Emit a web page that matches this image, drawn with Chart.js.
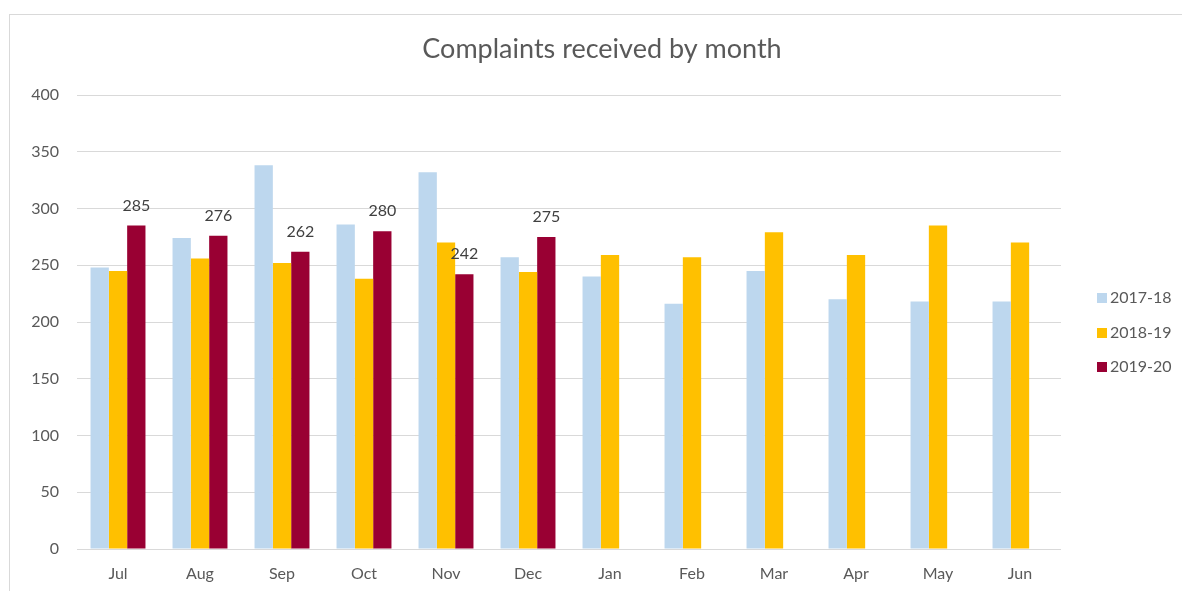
<!DOCTYPE html>
<html>
<head>
<meta charset="utf-8">
<script src="https://cdn.jsdelivr.net/npm/chart.js@4/dist/chart.umd.min.js"></script>
<style>
  html, body { margin: 0; padding: 0; background: #fff; }
  #wrap { position: relative; width: 1182px; height: 591px; }
</style>
</head>
<body>
<div id="wrap"><canvas id="c" width="1182" height="591"></canvas></div>
<script>
const months = ["Jul","Aug","Sep","Oct","Nov","Dec","Jan","Feb","Mar","Apr","May","Jun"];
const series1718 = [248, 274, 338, 286, 332, 257, 240, 216, 245, 220, 218, 218];
const series1819 = [245, 256, 252, 238, 270, 244, 259, 257, 279, 259, 285, 270];
const series1920 = [285, 276, 262, 280, 242, 275, null, null, null, null, null, null];
const seriesNames = ["2017-18", "2018-19", "2019-20"];
const seriesColors = ["#BDD7EE", "#FFC000", "#990033"];
const yTicks = [0, 50, 100, 150, 200, 250, 300, 350, 400];
const chartTitle = "Complaints received by month";

const FONT = "Lato, 'Open Sans', sans-serif";
const TXT = "#595959";

// outer frame + title + legend drawn as canvas text
const decor = {
  id: 'decor',
  beforeDraw(chart) {
    const ctx = chart.ctx;
    ctx.save();
    ctx.strokeStyle = '#d9d9d9';
    ctx.lineWidth = 1;
    ctx.strokeRect(9.5, 14.5, 1400, 800);
    ctx.restore();
  },
  afterDraw(chart) {
    const ctx = chart.ctx;
    ctx.save();
    // title
    ctx.font = "27px " + FONT;
    ctx.fillStyle = TXT;
    ctx.textAlign = "center";
    ctx.textBaseline = "alphabetic";
    ctx.fillText(chartTitle, 602, 58);
    // legend
    ctx.font = "16px " + FONT;
    ctx.textAlign = "left";
    ctx.textBaseline = "middle";
    const rowsY = [298, 333, 367];
    chart.data.datasets.forEach((ds, i) => {
      ctx.fillStyle = ds.backgroundColor;
      ctx.fillRect(1097, rowsY[i] - 5, 10, 10);
      ctx.fillStyle = TXT;
      ctx.fillText(ds.label, 1110, rowsY[i]);
    });
    ctx.restore();
  }
};

const dataLabels = {
  id: 'dataLabels',
  afterDatasetsDraw(chart) {
    const ctx = chart.ctx;
    const idx = 2;
    const meta = chart.getDatasetMeta(idx);
    const ds = chart.data.datasets[idx];
    ctx.save();
    ctx.font = "16px " + FONT;
    ctx.fillStyle = "#404040";
    ctx.textAlign = "center";
    ctx.textBaseline = "middle";
    meta.data.forEach((bar, i) => {
      const v = ds.data[i];
      if (v === null || v === undefined) return;
      ctx.fillText(String(v), bar.x, bar.y - 20);
    });
    ctx.restore();
  }
};

new Chart(document.getElementById('c'), {
  type: 'bar',
  data: {
    labels: months,
    datasets: [
      { label: seriesNames[0], data: series1718, backgroundColor: seriesColors[0] },
      { label: seriesNames[1], data: series1819, backgroundColor: seriesColors[1] },
      { label: seriesNames[2], data: series1920, backgroundColor: seriesColors[2] }
    ]
  },
  options: {
    responsive: false,
    animation: false,
    devicePixelRatio: 1,
    datasets: { bar: { barPercentage: 1, categoryPercentage: 0.67 } },
    layout: { padding: { left: 0, right: 121, top: 95, bottom: 0 } },
    plugins: {
      title: { display: false },
      legend: { display: false },
      tooltip: { enabled: false }
    },
    scales: {
      x: {
        afterFit(scale) { scale.height = 42; },
        grid: { display: false },
        border: { display: false },
        ticks: { color: TXT, font: { family: FONT, size: 16 }, padding: 7 }
      },
      y: {
        min: 0,
        max: 400,
        afterBuildTicks(scale) { scale.ticks = yTicks.map(v => ({ value: v })); },
        afterFit(scale) { scale.width = 77; },
        grid: { color: '#d9d9d9', drawTicks: false },
        border: { display: false },
        ticks: { color: TXT, font: { family: FONT, size: 16 }, padding: 18 }
      }
    }
  },
  plugins: [decor, dataLabels]
});
</script>
</body>
</html>
